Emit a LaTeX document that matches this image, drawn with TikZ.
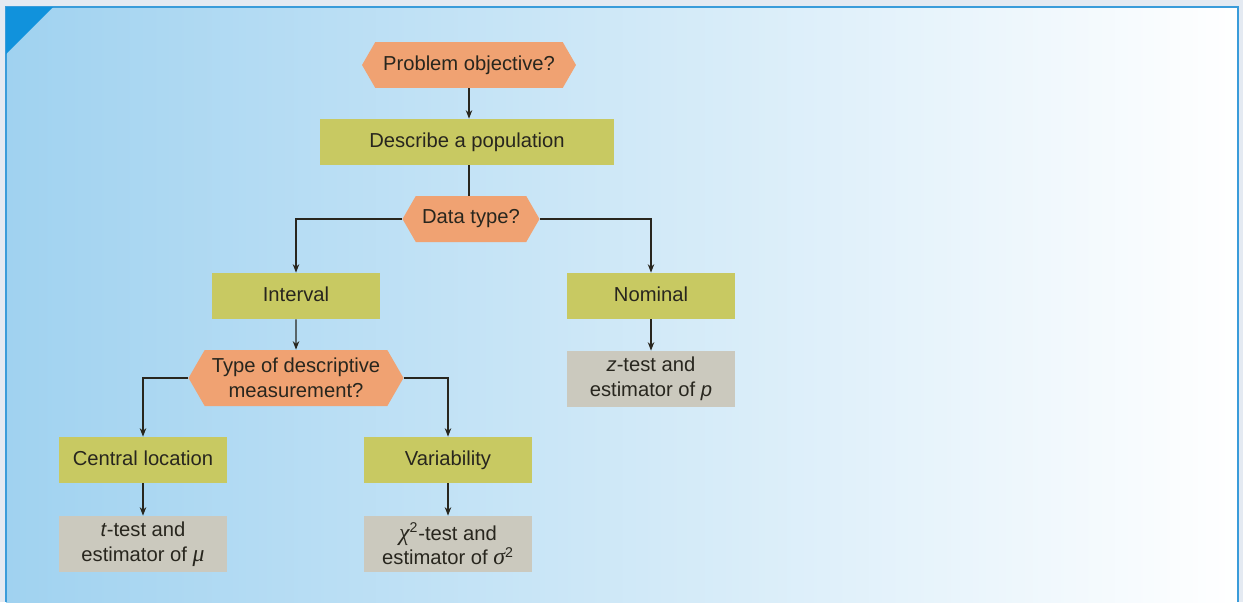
\documentclass[tikz,border=0pt]{standalone}
\usepackage{fontspec}
\setmainfont{Liberation Sans}
\newfontfamily\greekserif{Liberation Serif}
\usetikzlibrary{arrows.meta,positioning,shapes.symbols}
\definecolor{panelblue}{RGB}{160,210,240}
\definecolor{panelmid}{RGB}{212,229,242}
\definecolor{framegrey}{RGB}{228,234,242}
\definecolor{frameblue}{RGB}{58,156,218}
\definecolor{cornerblue}{RGB}{17,146,220}
\definecolor{hexorange}{RGB}{240,162,114}
\definecolor{boxgreen}{RGB}{200,201,98}
\definecolor{boxgrey}{RGB}{203,201,190}
\definecolor{inkdark}{RGB}{40,38,30}
\newcommand{\grk}[1]{{\greekserif\fontsize{13.5}{14}\selectfont\itshape #1}}
\tikzset{
  question/.style={
    shape=signal,
    signal to=west and east,
    signal pointer angle=120,
    fill=hexorange,
    align=center,
    minimum height=.92cm,
    inner sep=2pt,
    text=inkdark,
    font=\fontsize{11.5}{14}\selectfont
  },
  choice/.style={
    fill=boxgreen,
    align=center,
    minimum width=3.36cm,
    minimum height=.92cm,
    text height=1.45ex,
    text depth=.3ex,
    inner sep=2pt,
    text=inkdark,
    font=\fontsize{11.5}{14}\selectfont
  },
  result/.style={
    fill=boxgrey,
    align=center,
    minimum width=3.36cm,
    minimum height=1.12cm,
    inner sep=2pt,
    text=inkdark,
    font=\fontsize{11.5}{14}\selectfont
  },
  arrow/.style={
    -{Stealth[length=1.7mm,width=1.3mm]},
    line width=.6pt,
    inkdark
  },
  link/.style={
    line width=.6pt,
    inkdark
  }
}

\begin{document}
\begin{tikzpicture}[x=0.02cm,y=-0.02cm]
\useasboundingbox[fill=framegrey] (0,0) rectangle (1243,602);
\shade[left color=panelblue,middle color=panelmid,right color=white] (6,7) rectangle (1238,602);
\draw[frameblue,line width=.6pt] (6,602) -- (6,7) -- (1238,7) -- (1238,602);
\fill[cornerblue] (6,7) -- (53,7) -- (6,54) -- cycle;

\node[question,minimum width=4.28cm] (objective) at (469,65) {Problem objective?};
\node[choice,minimum width=5.9cm] (describe) at (467,142) {Describe a population};
\node[question,minimum width=2.74cm] (datatype) at (471,219) {Data type?};
\node[choice] (interval) at (296,296) {Interval};
\node[choice] (nominal) at (651,296) {Nominal};
\node[question,minimum width=4.3cm,minimum height=1.12cm] (measure) at (296,378) {Type of descriptive\\measurement?};
\node[result] (ztest) at (651,379) {\textit{z}-test and\\estimator of \textit{p}};
\node[choice] (central) at (143,460) {Central location};
\node[choice] (variab) at (448,460) {Variability};
\node[result] (ttest) at (143,544) {\textit{t}-test and\\estimator of \grk{μ}};
\node[result] (chitest) at (448,544) {\grk{χ}\textsuperscript{2}-test and\\estimator of \grk{σ}\textsuperscript{2}};

\draw[arrow] (objective.south) -- (objective.south |- describe.north);
\draw[link] (objective.south |- describe.south) -- (objective.south |- datatype.north);
\draw[arrow] (datatype.west) -| (interval.north);
\draw[arrow] (datatype.east) -| (nominal.north);
\draw[arrow] (interval) -- (measure);
\draw[arrow] (nominal) -- (ztest);
\draw[arrow] (measure.west) -| (central.north);
\draw[arrow] (measure.east) -| (variab.north);
\draw[arrow] (central) -- (ttest);
\draw[arrow] (variab) -- (chitest);
\end{tikzpicture}
\end{document}
